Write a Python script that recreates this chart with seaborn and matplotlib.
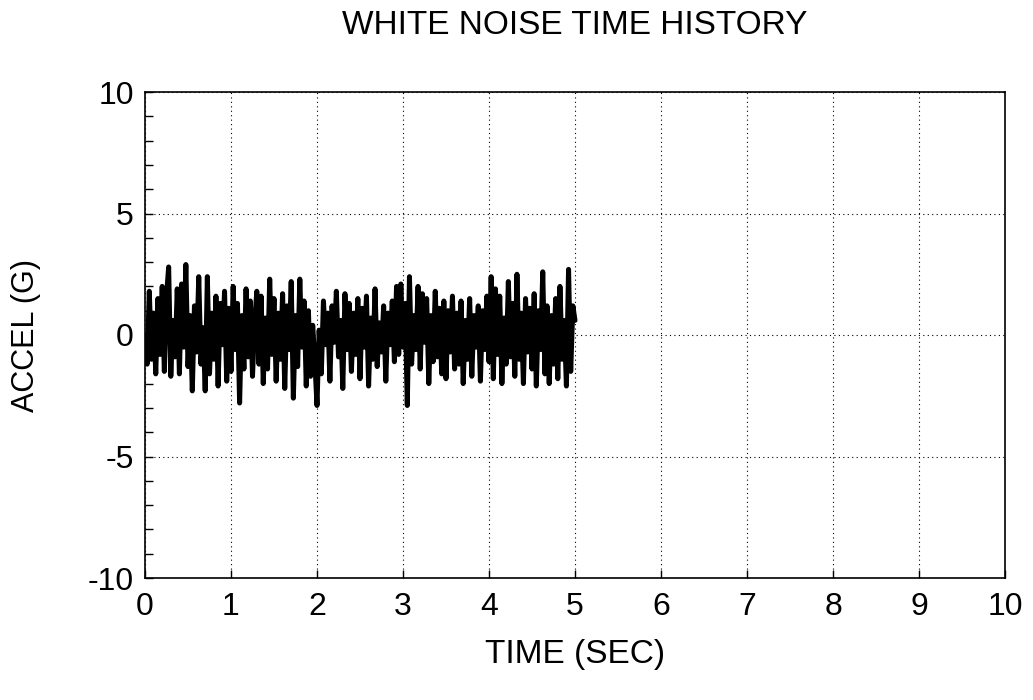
import numpy as np
import pandas as pd
import seaborn as sns
import matplotlib.pyplot as plt
from matplotlib.ticker import MultipleLocator

# sample step 0.025 s, values in G
DT = 0.025
accel = [
    0.0, -1.2, 1.8, -1.0, 0.9, -1.6, 1.5, -0.8, 2.0, -1.5, 1.6, 2.8, -1.7, 0.6, -0.9, 1.9, -1.6, 2.1, -0.5, 2.9,
    -1.3, 0.8, -2.3, 1.2, -0.7, 2.4, -1.2, 0.3, -2.3, 2.4, -1.6, 0.9, -1.0, 1.6, -2.1, 1.3, -0.4, 1.8, -1.9, 1.1,
    -1.5, 2.0, -0.6, 1.3, -2.8, 0.8, -1.4, 1.9, -0.9, 1.4, -1.7, 0.5, 1.8, -1.2, 1.6, -2.0, 0.7, -1.4, 2.3, -0.8,
    1.5, -1.9, 0.9, -1.0, 1.7, -2.2, 1.2, -0.6, 2.2, -2.6, 0.8, -1.3, 2.3, -0.5, 1.4, -2.1, 1.0, -1.7, 0.4, -1.1,
    -2.9, 0.2, -1.6, 1.4, -0.4, 0.9, -1.9, 1.2, -0.3, 1.8, -0.9, 0.6, -2.2, 1.7, -0.6, 1.3, -1.5, 0.9, -0.8, 1.5,
    -1.8, 1.1, -0.5, 1.6, -2.1, 0.7, -1.0, 1.9, -1.3, 0.5, -0.7, 1.2, -1.9, 0.9, -0.4, 1.4, -1.1, 2.0, -0.8, 2.1,
    -0.5, 1.3, -2.9, 2.4, -1.2, 0.8, -0.6, 2.0, -1.4, 1.7, -0.3, 1.5, -2.0, 0.8, -1.1, 1.8, -0.9, 1.1, -1.6, 1.4,
    -1.8, 1.0, -0.7, 1.6, -1.4, 0.9, -1.2, 1.4, -2.0, 0.6, -1.0, 1.5, -1.7, 0.8, -0.5, 1.2, -1.9, 1.0, -0.6, 1.6,
    -1.1, 2.4, -1.8, 1.9, -0.8, 1.6, -2.0, 0.7, -1.2, 2.2, -0.9, 1.3, -1.7, 2.5, -1.0, 0.9, -2.0, 1.5, -0.7, 1.1,
    -1.4, 1.7, -2.1, 1.0, -0.6, 2.6, -1.6, 1.2, -2.0, 0.8, -1.2, 1.5, -1.8, 2.0, -1.0, 0.6, -2.1, 2.7, -1.5, 1.2,
    0.6,
]
time = np.arange(len(accel)) * DT

df = pd.DataFrame({'time': time, 'accel': accel})

sns.set_style('white')
plt.rcParams['font.family'] = ['Liberation Sans', 'DejaVu Sans']
plt.rcParams['axes.unicode_minus'] = False
plt.rcParams['text.color'] = 'black'
plt.rcParams['axes.labelcolor'] = 'black'
plt.rcParams['xtick.color'] = 'black'
plt.rcParams['ytick.color'] = 'black'

fig = plt.figure(figsize=(10.33, 7), dpi=100)
ax = fig.add_axes([145/1033, 1 - 578/700, 860/1033, 486/700])

sns.lineplot(data=df, x='time', y='accel', color='black', linewidth=3.6,
             estimator=None, sort=False, ax=ax)

ax.set_xlim(0, 10)
ax.set_ylim(-10, 10)
ax.xaxis.set_major_locator(MultipleLocator(1))
ax.yaxis.set_major_locator(MultipleLocator(5))
ax.yaxis.set_minor_locator(MultipleLocator(1))
ax.tick_params(which='both', direction='in', length=6, width=1, labelsize=23,
               bottom=True, left=True, top=False, right=False)
ax.tick_params(axis='x', pad=10)
ax.tick_params(axis='y', pad=8)
ax.grid(True, which='major', color='black', linestyle=(0, (1, 3)), linewidth=0.8)
for s in ax.spines.values():
    s.set_color('black')
    s.set_linewidth(1.2)

ax.set_title('WHITE NOISE TIME HISTORY', fontsize=24, pad=42)
ax.set_xlabel('TIME (SEC)', fontsize=24, labelpad=12)
ax.set_ylabel('ACCEL (G)', fontsize=22, labelpad=34)

fig.savefig('out.png', dpi=100)
